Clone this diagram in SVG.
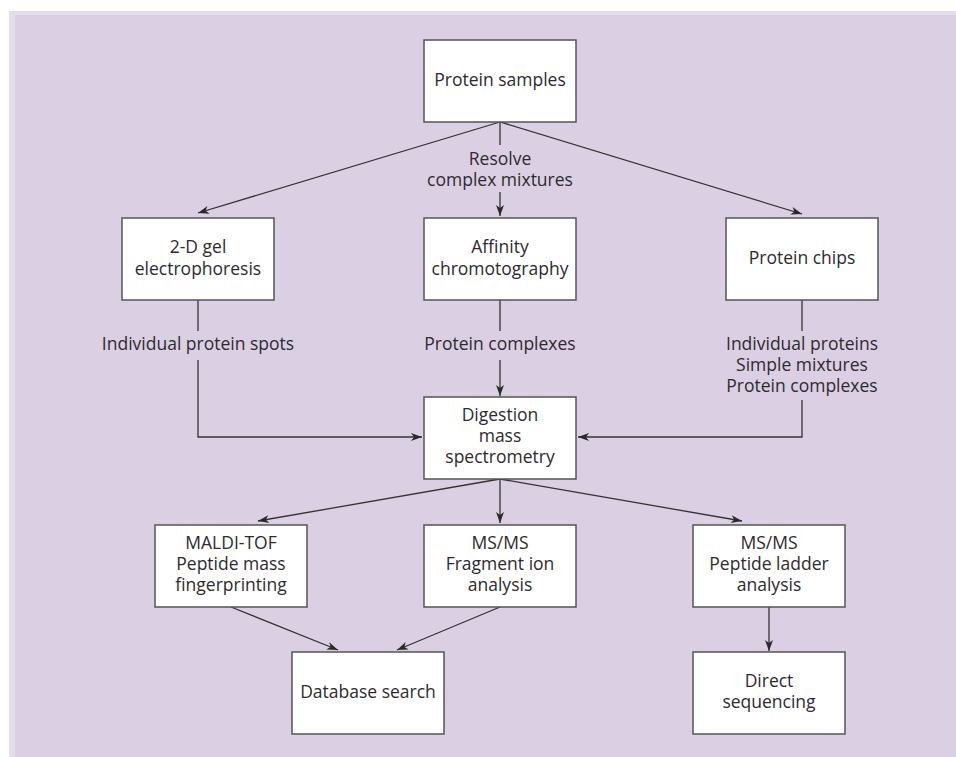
<svg xmlns="http://www.w3.org/2000/svg" width="956" height="757" viewBox="0 0 956 757">
<defs>
<style>
.box{fill:#fff;stroke:#555;stroke-width:1.5}
.t{font-family:"Open Sans","Noto Sans","DejaVu Sans",sans-serif;font-size:17.5px;fill:#2e2a30;text-anchor:middle}
.c{fill:none;stroke:#333;stroke-width:1.3}
.a{marker-end:url(#ah)}
</style>
<marker id="ah" markerUnits="userSpaceOnUse" markerWidth="12" markerHeight="9" refX="11" refY="4" orient="auto" viewBox="0 0 12 8">
<path d="M0,0 L11,4 L0,8 L3,4 z" fill="#2a2a2a"/>
</marker>
</defs>
<rect x="9" y="11" width="947" height="746" fill="#e4dcea"/>
<rect x="15" y="15" width="941" height="742" fill="#dbd0e3"/>

<g id="connectors">
<path class="c a" d="M500,122 L198,213"/>
<path class="c a" d="M500,122 L802,214"/>
<path class="c" d="M500,122 L500,145"/>
<path class="c a" d="M500,192 L500,216"/>
<path class="c" d="M198,300 L198,331"/>
<path class="c a" d="M198,360 L198,437 L422,437"/>
<path class="c" d="M500,300 L500,331"/>
<path class="c a" d="M500,360 L500,396"/>
<path class="c" d="M802,300 L802,331"/>
<path class="c a" d="M802,400 L802,437 L578,437"/>
<path class="c a" d="M500,479 L258,521"/>
<path class="c a" d="M500,479 L500,523"/>
<path class="c a" d="M500,479 L742,521"/>
<path class="c a" d="M231,607 L338,650"/>
<path class="c a" d="M500,607 L397,650"/>
<path class="c a" d="M769,607 L769,651"/>
</g>

<g id="labels">
<text class="t" x="500" y="165">Resolve</text>
<text class="t" x="500" y="186">complex mixtures</text>
<text class="t" x="198" y="350">Individual protein spots</text>
<text class="t" x="500" y="350">Protein complexes</text>
<text class="t" x="802" y="350">Individual proteins</text>
<text class="t" x="802" y="371">Simple mixtures</text>
<text class="t" x="802" y="392">Protein complexes</text>
</g>

<g id="protein-samples">
<rect class="box" x="424" y="40" width="152" height="82"/>
<text class="t" x="500" y="86">Protein samples</text>
</g>
<g id="gel">
<rect class="box" x="122" y="218" width="152" height="82"/>
<text class="t" x="198" y="253">2-D gel</text>
<text class="t" x="198" y="275">electrophoresis</text>
</g>
<g id="affinity">
<rect class="box" x="424" y="218" width="152" height="82"/>
<text class="t" x="500" y="253">Affinity</text>
<text class="t" x="500" y="275">chromotography</text>
</g>
<g id="chips">
<rect class="box" x="726" y="218" width="152" height="82"/>
<text class="t" x="802" y="264">Protein chips</text>
</g>
<g id="digestion">
<rect class="box" x="424" y="397" width="152" height="82"/>
<text class="t" x="500" y="421">Digestion</text>
<text class="t" x="500" y="442">mass</text>
<text class="t" x="500" y="463">spectrometry</text>
</g>
<g id="maldi">
<rect class="box" x="155" y="525" width="152" height="82"/>
<text class="t" x="231" y="549">MALDI-TOF</text>
<text class="t" x="231" y="570">Peptide mass</text>
<text class="t" x="231" y="591">fingerprinting</text>
</g>
<g id="msms-fragment">
<rect class="box" x="424" y="525" width="152" height="82"/>
<text class="t" x="500" y="549">MS/MS</text>
<text class="t" x="500" y="570">Fragment ion</text>
<text class="t" x="500" y="591">analysis</text>
</g>
<g id="msms-ladder">
<rect class="box" x="693" y="525" width="152" height="82"/>
<text class="t" x="769" y="549">MS/MS</text>
<text class="t" x="769" y="570">Peptide ladder</text>
<text class="t" x="769" y="591">analysis</text>
</g>
<g id="database">
<rect class="box" x="292" y="652" width="152" height="82"/>
<text class="t" x="368" y="698">Database search</text>
</g>
<g id="direct">
<rect class="box" x="693" y="652" width="152" height="82"/>
<text class="t" x="769" y="687">Direct</text>
<text class="t" x="769" y="708">sequencing</text>
</g>
</svg>
